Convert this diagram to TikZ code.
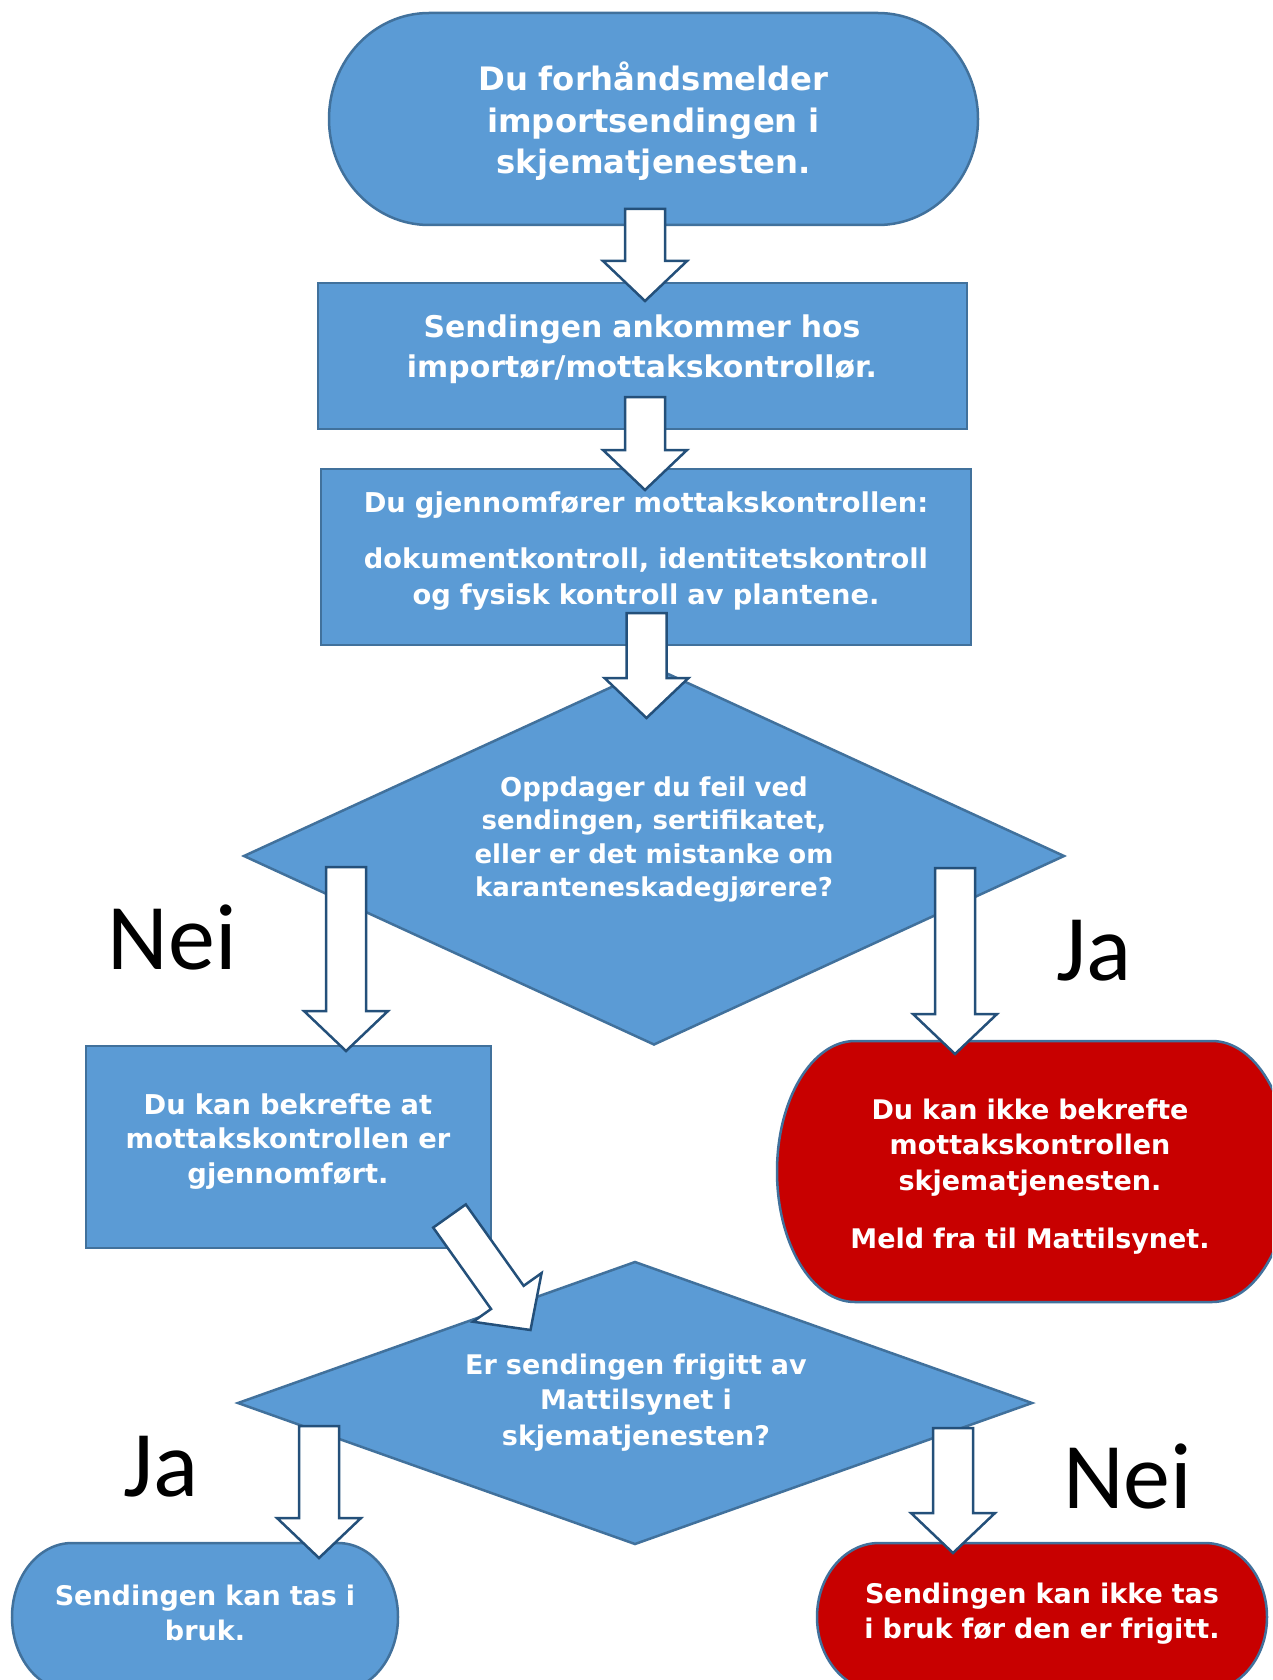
\documentclass[tikz,border=0pt]{standalone}
\usepackage{fontspec}
\setmainfont{DejaVu Sans}
\newfontfamily\labelfont{Carlito}
\usetikzlibrary{calc,shapes.geometric}
\definecolor{fillblue}{HTML}{5B9BD5}
\definecolor{edgeblue}{HTML}{41719C}
\definecolor{fillred}{HTML}{C80000}
\definecolor{arrowedge}{HTML}{24507A}
\tikzset{
  shapebase/.style={fill=fillblue, draw=edgeblue, line width=2.5pt},
  boxnode/.style={shapebase, rectangle, inner sep=0pt, outer sep=0pt},
  decision/.style={shapebase, diamond, inner sep=0pt, outer sep=0pt},
  redshape/.style={fill=fillred, draw=edgeblue, line width=2.5pt},
  arrowshape/.style={fill=white, draw=arrowedge, line width=2.5pt, line join=miter},
  txt/.style={text=white, align=center, inner sep=0pt, anchor=base, text width=700pt},
  answer/.style={font=\labelfont\fontsize{94}{94}\selectfont, text=black, inner sep=0pt, anchor=base},
}
% block arrow from tail coordinate #1 to tip coordinate #2
\newcommand{\blockarrow}[2]{%
  \path ($(#2)!40pt!(#1)$) coordinate (#2-hb);
  \draw[arrowshape] ($(#1)!20pt!90:(#2)$) -- ($(#2-hb)!20pt!90:(#2)$) -- ($(#2-hb)!42pt!90:(#2)$)
    -- (#2) -- ($(#2-hb)!42pt!-90:(#2)$) -- ($(#2-hb)!20pt!-90:(#2)$) -- ($(#1)!20pt!-90:(#2)$) -- cycle;
}
\begin{document}
\begin{tikzpicture}[x=1pt,y=-1pt]
\useasboundingbox (0,0) rectangle (1272,1680);
\clip (0,0) rectangle (1272,1680);
\fill[white] (0,0) rectangle (1272,1680);

% start terminator
\coordinate (start) at (653.5,119);
\draw[shapebase] (429,13) -- (878,13) arc[start angle=-90,end angle=90,x radius=100,y radius=106]
  -- (429,225) arc[start angle=90,end angle=270,x radius=100,y radius=106] -- cycle;

% boxes
\node[boxnode, minimum width=649pt, minimum height=146pt] (arrive) at (642.5,356) {};
\node[boxnode, minimum width=650pt, minimum height=176pt] (control) at (646,557) {};
\node[decision, minimum width=820pt, minimum height=377pt] (check) at (654,856) {};
\node[boxnode, minimum width=405pt, minimum height=202pt] (confirm) at (288.5,1147) {};

% red terminator
\coordinate (stop) at (1033.5,1171.5);
\draw[redshape] (855,1041) -- (1212,1041) arc[start angle=-90,end angle=90,x radius=78,y radius=130.5]
  -- (855,1302) arc[start angle=90,end angle=270,x radius=78,y radius=130.5] -- cycle;

\node[decision, minimum width=794pt, minimum height=282pt] (released) at (635,1403) {};

% bottom terminators
\coordinate (useok) at (205,1617);
\draw[shapebase] (72,1543) -- (338,1543) arc[start angle=-90,end angle=90,x radius=60,y radius=74]
  -- (72,1691) arc[start angle=90,end angle=270,x radius=60,y radius=74] -- cycle;
\coordinate (usenot) at (1042,1617);
\draw[redshape] (879,1543) -- (1205,1543) arc[start angle=-90,end angle=90,x radius=62,y radius=74]
  -- (879,1691) arc[start angle=90,end angle=270,x radius=62,y radius=74] -- cycle;

% arrow end points
\coordinate (a1s) at (645,209);   \coordinate (a1e) at (645,301);
\coordinate (a2s) at (645,397);   \coordinate (a2e) at (645,490);
\coordinate (a3s) at (646.5,613); \coordinate (a3e) at (646.5,718);
\coordinate (a4s) at (346,867);   \coordinate (a4e) at (346,1051);
\coordinate (a5s) at (955,868);   \coordinate (a5e) at (955,1054);
\coordinate (a6s) at (449.5,1216);\coordinate (a6e) at (530.5,1330);
\coordinate (a7s) at (319,1426);  \coordinate (a7e) at (319,1558);
\coordinate (a8s) at (953,1428);  \coordinate (a8e) at (953,1553);

\blockarrow{a1s}{a1e}
\blockarrow{a2s}{a2e}
\blockarrow{a3s}{a3e}
\blockarrow{a4s}{a4e}
\blockarrow{a5s}{a5e}
\blockarrow{a6s}{a6e}
\blockarrow{a7s}{a7e}
\blockarrow{a8s}{a8e}

% texts
\node[txt, font=\bfseries\fontsize{32.3}{41.5}\selectfont] (t-start) at (653.5,91)
  {Du forhåndsmelder\\importsendingen i\\skjematjenesten.};
\node[txt, font=\bfseries\fontsize{29.9}{40}\selectfont] (t-arrive) at (642,337)
  {Sendingen ankommer hos\\importør/mottakskontrollør.};
\node[txt, font=\bfseries\fontsize{27.3}{36}\selectfont] (t-control) at (646,512)
  {Du gjennomfører mottakskontrollen:\\[20pt]dokumentkontroll, identitetskontroll\\og fysisk kontroll av plantene.};
\node[txt, font=\bfseries\fontsize{26}{33.5}\selectfont] (t-check) at (654,796)
  {Oppdager du feil ved\\sendingen, sertifikatet,\\eller er det mistanke om\\karanteneskadegjørere?};
\node[txt, font=\bfseries\fontsize{27.3}{34.5}\selectfont] (t-confirm) at (288,1114)
  {Du kan bekrefte at\\mottakskontrollen er\\gjennomført.};
\node[txt, font=\bfseries\fontsize{27}{35.5}\selectfont] (t-stop) at (1030,1119)
  {Du kan ikke bekrefte\\mottakskontrollen\\skjematjenesten.\\[22.5pt]Meld fra til Mattilsynet.};
\node[txt, font=\bfseries\fontsize{27}{35.5}\selectfont] (t-released) at (636,1374)
  {Er sendingen frigitt av\\Mattilsynet i\\skjematjenesten?};
\node[txt, font=\bfseries\fontsize{27}{35}\selectfont] (t-useok) at (205,1605)
  {Sendingen kan tas i\\bruk.};
\node[txt, font=\bfseries\fontsize{27}{35}\selectfont] (t-usenot) at (1042,1603)
  {Sendingen kan ikke tas\\i bruk før den er frigitt.};

% answer labels
\node[answer] (nei1) at (172.5,969) {Nei};
\node[answer] (ja1) at (1094,980) {Ja};
\node[answer] (ja2) at (161,1496) {Ja};
\node[answer] (nei2) at (1127.5,1508) {Nei};
\end{tikzpicture}
\end{document}
